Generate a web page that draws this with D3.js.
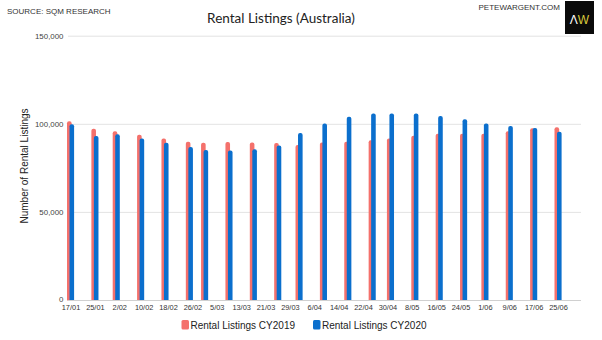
<!DOCTYPE html>
<html><head><meta charset="utf-8">
<script src="https://cdn.jsdelivr.net/npm/d3@7"></script>
<style>body{margin:0;background:#fff}svg{display:block}</style>
</head><body><svg id="c" width="602" height="340"></svg>
<script>
const dates = ["2020-01-17","2020-01-25","2020-02-01","2020-02-09","2020-02-17","2020-02-25","2020-03-01","2020-03-09","2020-03-17","2020-03-25","2020-04-01","2020-04-09","2020-04-17","2020-04-25","2020-05-01","2020-05-09","2020-05-17","2020-05-25","2020-06-01","2020-06-09","2020-06-17","2020-06-25"];
const cy2019 = [101800,97500,96000,94100,92000,90100,89500,89900,89700,89400,88200,89700,90100,91000,92000,93500,94700,94700,94700,96000,97700,98300];
const cy2020 = [100000,93300,94300,92000,89500,87100,85400,85200,85900,88000,95000,100500,104300,106200,106200,106200,104700,102800,100500,99000,97900,95800];
const yTicks = [0,50000,100000,150000];
const seriesNames = ["Rental Listings CY2019","Rental Listings CY2020"];
const colors = ["#f4716c","#0b6fcd"];

const parse = d3.timeParse("%Y-%m-%d");
const svg = d3.select("#c");
const FONT = "'Liberation Sans', Arial, sans-serif";

const x = d3.scaleTime().domain([parse("2020-01-17"), parse("2020-06-25")]).range([70.5, 558]);
const y = d3.scaleLinear().domain([0,150000]).range([300.5, 36.2]);
const plotL = 68, plotR = 581;

// gridlines
svg.append("g").selectAll("line").data(yTicks.filter(d=>d>0)).join("line")
  .attr("x1",plotL).attr("x2",plotR).attr("y1",d=>y(d)).attr("y2",d=>y(d))
  .attr("stroke","#e3e3e3").attr("stroke-width",1);

// y axis
const yAxis = d3.axisLeft(y).tickValues(yTicks).tickFormat(d3.format(",")).tickSize(0).tickPadding(0);
const gy = svg.append("g").attr("transform","translate(63.5,0)").call(yAxis);
gy.select(".domain").remove();
gy.selectAll("text").attr("font-family",FONT).attr("font-size",7.9).attr("fill","#444").attr("dy","0.3em");
gy.selectAll("text").filter(d=>d===0).attr("dy","0.12em");

// bars
function topRounded(x0,w,yTop,yBase,r){
  r=Math.min(r,w/2,Math.max(0,yBase-yTop));
  return `M${x0},${yBase}V${yTop+r}Q${x0},${yTop} ${x0+r},${yTop}H${x0+w-r}Q${x0+w},${yTop} ${x0+w},${yTop+r}V${yBase}Z`;
}
const bw = 4.6;
const data = dates.map((d,i)=>({date:parse(d), a:cy2019[i], b:cy2020[i]}));
svg.append("g").selectAll("path").data(data).join("path")
  .attr("d",d=>topRounded(x(d.date)-3.5,bw,y(d.a),y(0),2)).attr("fill",colors[0]);
svg.append("g").selectAll("path").data(data).join("path")
  .attr("d",d=>topRounded(x(d.date)-1,bw,y(d.b),y(0),2)).attr("fill",colors[1]);

// x axis
svg.append("line").attr("x1",plotL).attr("x2",plotR).attr("y1",300.5).attr("y2",300.5)
  .attr("stroke","#d0d0d0").attr("stroke-width",1);
const xTicks = d3.timeDay.range(parse("2020-01-17"), parse("2020-06-26"), 1).filter((d,i)=>i%8===0);
const xAxis = d3.axisBottom(x).tickValues(xTicks).tickFormat(d=>d.getDate()+"/"+d3.timeFormat("%m")(d)).tickSize(0).tickPadding(0);
const gx = svg.append("g").attr("transform","translate(0,305)").call(xAxis);
gx.select(".domain").remove();
gx.selectAll("text").attr("font-family",FONT).attr("font-size",7.4).attr("fill","#333").attr("dy","0.71em");

// axis title
svg.append("text").attr("transform","translate(28,166) rotate(-90)").attr("text-anchor","middle")
  .attr("font-family",FONT).attr("font-size",10).attr("fill","#222").text("Number of Rental Listings");

// title
const t = svg.append("text").attr("x",281).attr("y",23).attr("text-anchor","middle")
  .attr("font-family","Lato, 'Open Sans', sans-serif").attr("font-size",15).attr("fill","#222")
  .text("Rental Listings (Australia)");
const tl = t.node().getComputedTextLength();
t.attr("font-size", 15*148/tl);

// source & site
svg.append("text").attr("x",7).attr("y",14).attr("font-family",FONT).attr("font-size",8).attr("fill","#333").text("SOURCE: SQM RESEARCH");
svg.append("text").attr("x",560).attr("y",10).attr("text-anchor","end").attr("font-family",FONT).attr("font-size",8).attr("fill","#333").text("PETEWARGENT.COM");

// logo
svg.append("rect").attr("x",565).attr("y",1).attr("width",29).attr("height",33).attr("fill","#0a0a0a");
const lg = svg.append("text").attr("x",579.5).attr("y",24).attr("text-anchor","middle")
  .attr("font-family","'Liberation Sans', Arial, sans-serif").attr("font-size",12);
lg.append("tspan").attr("fill","#ffffff").text("Λ");
lg.append("tspan").attr("fill","#d9c93a").text("W");

// legend
const leg = svg.append("g");
const legX = [181.5, 313];
seriesNames.forEach((n,i)=>{
  leg.append("rect").attr("x",legX[i]).attr("y",320).attr("width",7.5).attr("height",9.5).attr("rx",1.5).attr("fill",colors[i]);
  leg.append("text").attr("x",legX[i]+9).attr("y",328.5).attr("font-family",FONT).attr("font-size",10).attr("fill","#222").text(n);
});
</script></body></html>
